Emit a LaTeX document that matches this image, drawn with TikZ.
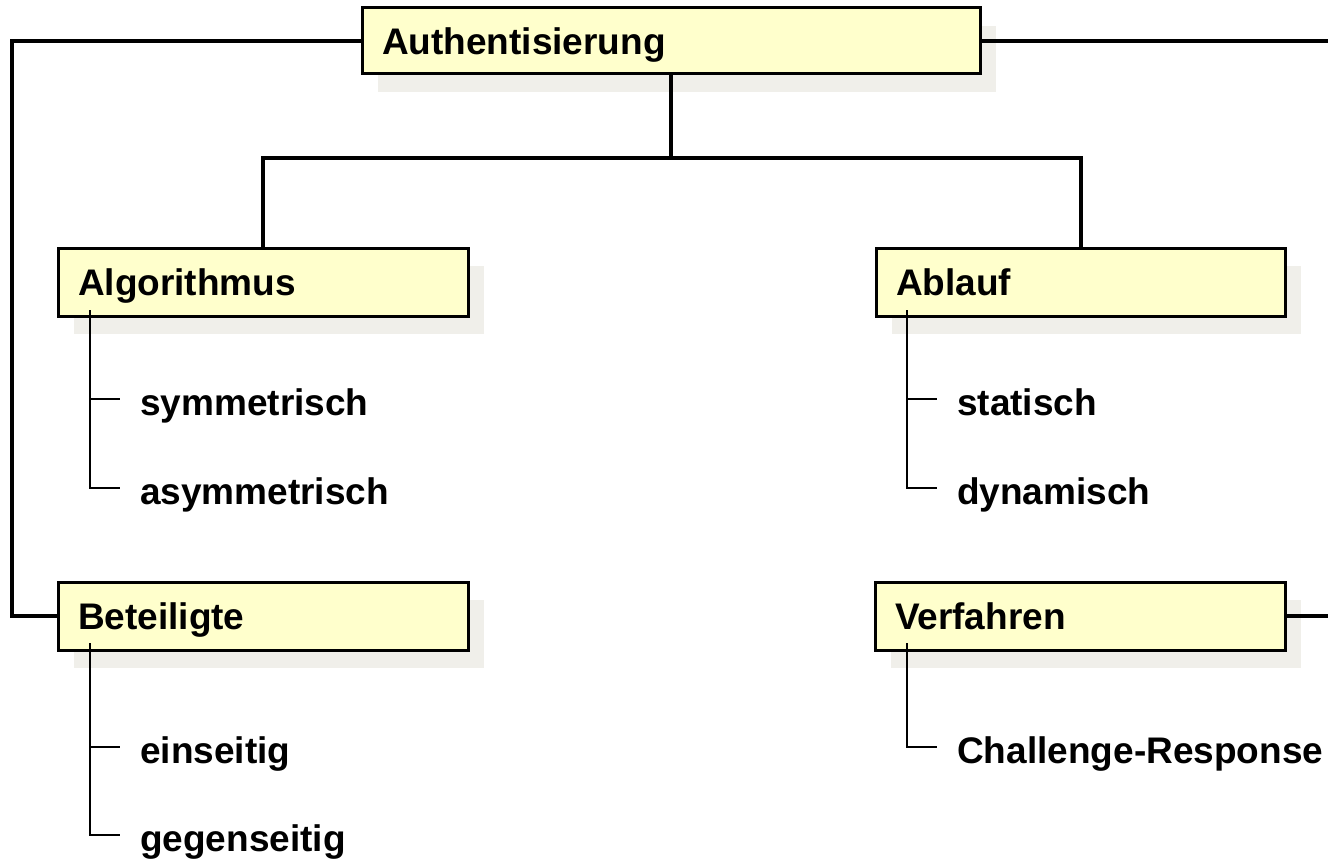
\documentclass[tikz,border=0pt]{standalone}
\usepackage{fontspec}
\setmainfont{Liberation Sans}
\usetikzlibrary{shadows}
\definecolor{boxfill}{RGB}{255,255,204}
\definecolor{shade}{RGB}{240,239,234}
\begin{document}
\begin{tikzpicture}[x=1pt,y=-1pt,
  topic/.style={draw=black, line width=3pt, fill=boxfill, rectangle,
    minimum height=#1, inner xsep=20pt, inner ysep=0pt,
    text height=26.5pt, text depth=0pt, align=left,
    font=\fontsize{37}{44}\selectfont\bfseries,
    drop shadow={shadow xshift=16pt, shadow yshift=-18pt, fill=shade, opacity=1}},
  topic/.default=68pt,
  item/.style={anchor=base west, inner xsep=20pt, inner ysep=0pt,
    text height=32pt, text depth=0pt,
    font=\fontsize{37}{44}\selectfont\bfseries},
  link/.style={line width=4pt},
  sublink/.style={line width=2pt}]
\useasboundingbox (0,0) rectangle (1328,864);

% main topic and its four aspects
\node[topic=66pt, text width=578pt] (auth) at (671,41) {Authentisierung};
\node[topic, text width=370pt] (algo)   at (263,282)  {Algorithmus};
\node[topic, text width=369pt] (ablauf) at (1080.5,282) {Ablauf};
\node[topic, text width=370pt] (beteil) at (263,616)  {Beteiligte};
\node[topic, text width=370pt] (verf)   at (1080,616) {Verfahren};

% sub-items
\node[item] (sym)   at (120,415) {symmetrisch};
\node[item] (asym)  at (120,504) {asymmetrisch};
\node[item] (stat)  at (937,415) {statisch};
\node[item] (dyn)   at (937,504) {dynamisch};
\node[item] (eins)  at (120,763) {einseitig};
\node[item] (gegen) at (120,851) {gegenseitig};
\node[item] (chal)  at (937,763) {Challenge-Response};

% helper points for the connectors
\coordinate (fork) at (671,158);
\coordinate (lc)   at (12,41);
\coordinate (rA)   at (1332,41);
\coordinate (rV)   at (1332,616);
\coordinate (algoT)   at (90,310);
\coordinate (ablaufT) at (907,310);
\coordinate (beteilT) at (90,643);
\coordinate (verfT)   at (907,643);

% tree connectors
\draw[link] (auth.south) -- (fork) -| (algo.north);
\draw[link] (fork) -| (ablauf.north);
\draw[link] (auth.west) -- (lc) |- (beteil.west);
\draw[link] (auth.east) -- (rA);
\draw[link] (verf.east) -- (rV);

% item brackets
\draw[sublink] (algoT) |- (sym.west);
\draw[sublink] (algoT) |- (asym.west);
\draw[sublink] (ablaufT) |- (stat.west);
\draw[sublink] (ablaufT) |- (dyn.west);
\draw[sublink] (beteilT) |- (eins.west);
\draw[sublink] (beteilT) |- (gegen.west);
\draw[sublink] (verfT) |- (chal.west);
\end{tikzpicture}
\end{document}
